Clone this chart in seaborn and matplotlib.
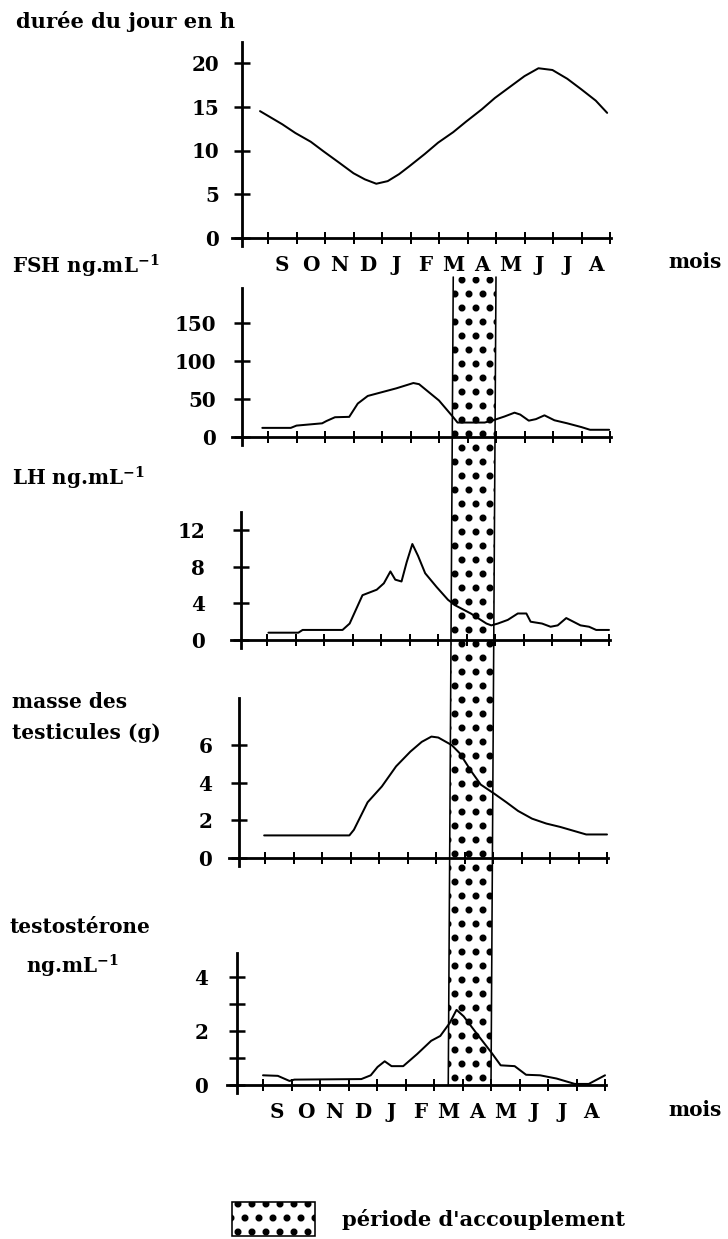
import numpy as np
import pandas as pd
import matplotlib
matplotlib.use("Agg")
import matplotlib.pyplot as plt
import seaborn as sns
from matplotlib.patches import Polygon, Patch
from matplotlib.lines import Line2D
from matplotlib.transforms import IdentityTransform

# ---------------- data (months counted from 1 September) ----------------
months = ["S", "O", "N", "D", "J", "F", "M", "A", "M", "J", "J", "A"]

day_x = [-0.28, 0.5, 0.96, 1.5, 1.95, 2.5, 3.0, 3.4, 3.8, 4.2, 4.6, 4.96, 5.5,
         5.97, 6.5, 6.95, 7.5, 7.96, 8.5, 9.0, 9.49, 9.98, 10.5, 10.99, 11.5, 11.9]
day_h = [14.5, 13.0, 12.0, 11.0, 9.9, 8.6, 7.4, 6.7, 6.2, 6.5, 7.3, 8.2, 9.6,
         10.9, 12.1, 13.3, 14.7, 16.0, 17.3, 18.5, 19.4, 19.2, 18.2, 17.0, 15.7, 14.3]

fsh_x = [-0.2, 0.8, 1.0, 1.9, 2.05, 2.35, 2.85, 3.15, 3.5, 4.0, 4.5, 5.1, 5.3,
         6.0, 6.5, 6.65, 7.6, 7.9, 8.3, 8.65, 8.85, 9.15, 9.4, 9.7, 10.05, 10.5,
         11.0, 11.3, 11.97]
fsh_v = [12, 12, 15, 18, 21, 26, 26.5, 44, 54, 59, 64, 71, 69.5,
         48, 26, 19, 19, 22, 27, 32, 29.5, 21.5, 23.5, 28.5, 22, 18,
         13, 9.5, 9.5]

lh_x = [0.05, 1.1, 1.25, 2.65, 2.9, 3.35, 3.6, 3.85, 4.1, 4.33, 4.5, 4.72, 4.9,
        5.1, 5.3, 5.55, 5.95, 6.35, 6.6, 7.15, 7.7, 7.87, 8.1, 8.45, 8.8, 9.1,
        9.25, 9.65, 9.95, 10.2, 10.5, 10.75, 11.0, 11.3, 11.55, 12.0]
lh_v = [0.8, 0.8, 1.1, 1.1, 1.8, 4.9, 5.2, 5.5, 6.2, 7.5, 6.6, 6.4, 8.5,
        10.5, 9.2, 7.3, 5.8, 4.4, 3.8, 2.9, 1.8, 1.6, 1.8, 2.2, 2.9, 2.9,
        2.0, 1.8, 1.45, 1.6, 2.4, 2.0, 1.6, 1.45, 1.1, 1.1]

testis_x = [-0.03, 2.96, 3.12, 3.6, 4.1, 4.6, 5.1, 5.5, 5.84, 6.08, 6.55, 6.83,
            7.24, 7.57, 8.06, 8.47, 8.88, 9.37, 9.87, 10.36, 10.86, 11.27, 12.0]
testis_g = [1.2, 1.2, 1.5, 2.96, 3.8, 4.87, 5.65, 6.17, 6.45, 6.4, 6.0, 5.57,
            4.6, 3.9, 3.4, 2.96, 2.5, 2.09, 1.83, 1.65, 1.43, 1.25, 1.25]

testo_x = [0.0, 0.52, 0.93, 1.1, 3.45, 3.78, 4.02, 4.27, 4.51, 4.92, 5.41, 5.9,
           6.22, 6.55, 6.79, 7.04, 7.52, 8.01, 8.34, 8.83, 9.23, 9.72, 10.3,
           10.94, 11.43, 12.0]
testo_v = [0.36, 0.34, 0.15, 0.2, 0.22, 0.36, 0.67, 0.88, 0.7, 0.7, 1.15, 1.64,
           1.82, 2.3, 2.79, 2.55, 1.88, 1.21, 0.73, 0.7, 0.38, 0.36, 0.24,
           0.04, 0.04, 0.36]

day_ticks = [0, 5, 10, 15, 20]
fsh_ticks = [0, 50, 100, 150]
lh_ticks = [0, 4, 8, 12]
testis_ticks = [0, 2, 4, 6]
testo_ticks = [0, 1, 2, 3, 4]
testo_ticklabels = ["0", "", "2", "", "4"]

mating_period = [6.5, 8.0]   # mid-March -> end of April

# ---------------- style ----------------
W, H, DPI = 728, 1239, 84


def pt(px):
    """pixels -> points at the figure dpi"""
    return px * 72.0 / DPI


sns.set_style("white")
plt.rcParams["font.family"] = ["DejaVu Serif"]
plt.rcParams["font.weight"] = "bold"
plt.rcParams["mathtext.fontset"] = "custom"
plt.rcParams["mathtext.rm"] = "DejaVu Serif:bold"
plt.rcParams["mathtext.it"] = "DejaVu Serif:bold"
plt.rcParams["mathtext.bf"] = "DejaVu Serif:bold"
for k in ["text.color", "axes.labelcolor", "xtick.color", "ytick.color", "axes.edgecolor"]:
    plt.rcParams[k] = "black"
plt.rcParams["hatch.linewidth"] = pt(4.2)
plt.rcParams["hatch.color"] = "black"

fig = plt.figure(figsize=(W / DPI, H / DPI), dpi=DPI)
fig.patch.set_facecolor("white")

MPX = 28.5              # pixels per month
XL, XR, YAX = -1.25, 12.05, -0.9
FS = pt(20)

panels = [
    dict(x=day_x, y=day_h, tick0=268, zero=238, top=42, ymax=22.4, ticks=day_ticks, labels=None, pad=15, months=True),
    dict(x=fsh_x, y=fsh_v, tick0=268, zero=437, top=288, ymax=196, ticks=fsh_ticks, labels=None, pad=18, months=False),
    dict(x=lh_x, y=lh_v, tick0=267, zero=640, top=512, ymax=14.0, ticks=lh_ticks, labels=None, pad=28, months=False),
    dict(x=testis_x, y=testis_g, tick0=265, zero=858, top=698, ymax=8.5, ticks=testis_ticks, labels=None, pad=19, months=False),
    dict(x=testo_x, y=testo_v, tick0=263, zero=1085, top=953, ymax=4.9, ticks=testo_ticks, labels=testo_ticklabels, pad=21, months=True),
]

axes = []
for p in panels:
    sy = (p["zero"] - p["top"]) / p["ymax"]
    ymin = -8.0 / sy
    bottom_px = p["zero"] + 8
    left_px = p["tick0"] + XL * MPX
    width_px = (XR - XL) * MPX
    ax = fig.add_axes([left_px / W, 1 - bottom_px / H, width_px / W, (bottom_px - p["top"]) / H])
    ax.patch.set_alpha(0)
    df = pd.DataFrame({"mois": p["x"], "val": p["y"]})
    sns.lineplot(data=df, x="mois", y="val", ax=ax, color="black", linewidth=pt(2.0),
                 estimator=None, sort=False)
    ax.set_xlim(XL, XR)
    ax.set_ylim(ymin, p["ymax"])
    ax.set_xlabel("")
    ax.set_ylabel("")
    for s in ["top", "right"]:
        ax.spines[s].set_visible(False)
    ax.spines["left"].set_position(("data", YAX))
    ax.spines["bottom"].set_position(("data", 0))
    ax.spines["left"].set_linewidth(pt(2.8))
    ax.spines["bottom"].set_linewidth(pt(2.8))
    ax.set_xticks(range(13))
    ax.set_xticklabels([])
    ax.set_xticks(np.arange(12) + 0.5, minor=True)
    ax.set_xticklabels(months if p["months"] else [""] * 12, minor=True)
    ax.set_yticks(p["ticks"])
    if p["labels"] is not None:
        ax.set_yticklabels(p["labels"])
    ax.tick_params(axis="x", which="major", bottom=True, direction="inout",
                   length=pt(12), width=pt(2))
    ax.tick_params(axis="x", which="minor", bottom=True, length=0, pad=pt(17), labelsize=FS)
    ax.tick_params(axis="y", which="major", left=True, direction="inout", length=pt(16),
                   width=pt(2.5), pad=pt(p["pad"]), labelsize=FS)
    ax.grid(False)
    axes.append(ax)

# ---------------- side texts ----------------
def ftext(x, y, s, size=20):
    fig.text(x / W, 1 - y / H, s, ha="left", va="baseline", fontsize=pt(size))


ftext(16, 28, "durée du jour en h", 21)
ftext(12, 273, r"FSH ng.mL$^{-1}$")
ftext(12, 485, r"LH ng.mL$^{-1}$")
ftext(12, 708, "masse des")
ftext(12, 739, "testicules (g)")
ftext(9, 933, "testostérone")
ftext(26, 973, r"ng.mL$^{-1}$")
ftext(668, 268, "mois")
ftext(668, 1116, "mois")

# ---------------- mating period band ----------------
ax_f, ax_t = axes[1], axes[-1]
band_top_y = H - 277
xl_top = ax_f.transData.transform((mating_period[0], 0))[0]
xr_top = ax_f.transData.transform((mating_period[1], 0))[0]
xl_bot, yb = ax_t.transData.transform((mating_period[0], 0))
xr_bot = ax_t.transData.transform((mating_period[1], 0))[0]
verts = [(xl_top, band_top_y), (xr_top, band_top_y), (xr_bot, yb), (xl_bot, yb)]
band = Polygon(verts, closed=True, transform=IdentityTransform(), facecolor="none",
               edgecolor="black", linewidth=0, hatch=".", zorder=3)
fig.add_artist(band)
for xa, xb in [(xl_top, xl_bot), (xr_top, xr_bot)]:
    fig.add_artist(Line2D([xa, xb], [band_top_y, yb], transform=IdentityTransform(),
                          color="black", linewidth=pt(1.6), zorder=4))

# ---------------- legend ----------------
handle = Patch(facecolor="white", edgecolor="black", hatch=".", linewidth=pt(1.6))
fig.legend(handles=[handle], labels=["période d'accouplement"], loc="center left",
           bbox_to_anchor=(232 / W, 1 - 1219 / H), frameon=False, fontsize=pt(21),
           handlelength=3.95, handleheight=2.1, handletextpad=1.3,
           borderpad=0, borderaxespad=0)

fig.savefig("out.png", dpi=DPI, facecolor="white")
